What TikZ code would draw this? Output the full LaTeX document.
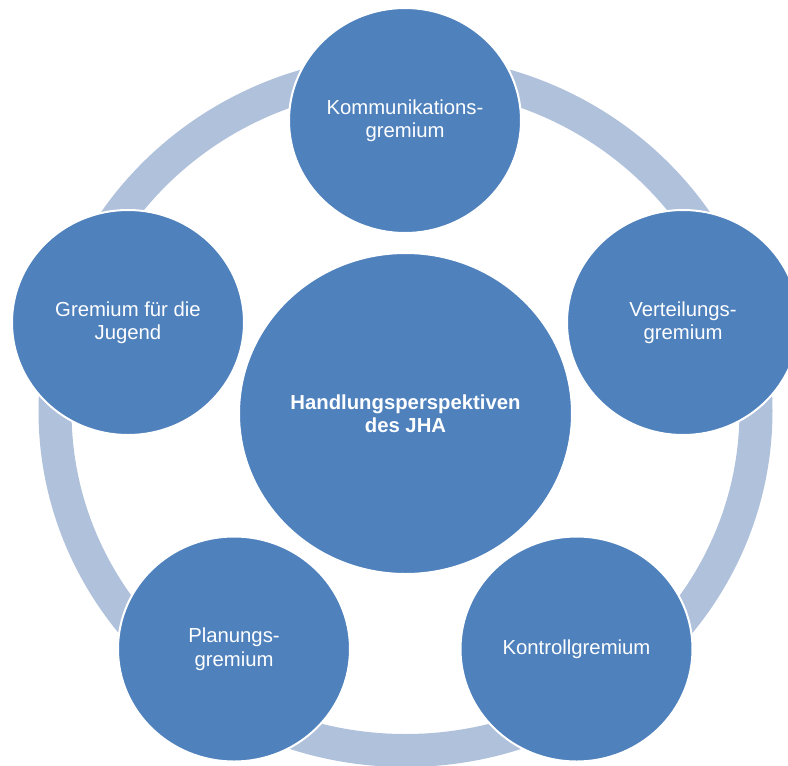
\documentclass[tikz,border=0pt]{standalone}
\usepackage{fontspec}
\setmainfont{Liberation Sans}
\usetikzlibrary{shapes.geometric}
\definecolor{circblue}{HTML}{4F81BD}
\definecolor{ringblue}{HTML}{B0C1DC}
\tikzset{
  outer/.style={ellipse, fill=circblue, draw=white, line width=2pt, inner sep=0pt,
    minimum width=232pt, minimum height=225pt, text=white, align=center,
    font=\fontsize{20.3}{23.5}\selectfont},
  hub/.style={ellipse, fill=circblue, draw=white, line width=2pt, inner sep=0pt,
    minimum width=333pt, minimum height=321pt, text=white, align=center,
    font=\fontsize{20.3}{23}\selectfont\bfseries},
  ring/.style={draw=ringblue, line width=33pt}
}
\begin{document}
\begin{tikzpicture}[x=1pt,y=-1pt]
\useasboundingbox (0,0) rectangle (788,766);
\clip (0,0) rectangle (788,766);
\coordinate (c) at (405.5,411);
\draw[ring] (c) ellipse [x radius=350.5pt, y radius=339.5pt];
\node[outer] (komm) at (405,120.5) {Kommunikations-\\gremium};
\node[outer] (vert) at (683,322.5) {Verteilungs-\\gremium};
\node[outer] (kont) at (576.5,649) {Kontrollgremium};
\node[outer] (plan) at (234,649) {Planungs-\\gremium};
\node[outer] (jug) at (128,322.5) {Gremium für die\\Jugend};
\node[hub] (hub) at (405.5,413.5) {Handlungsperspektiven\\des JHA};
\end{tikzpicture}
\end{document}
